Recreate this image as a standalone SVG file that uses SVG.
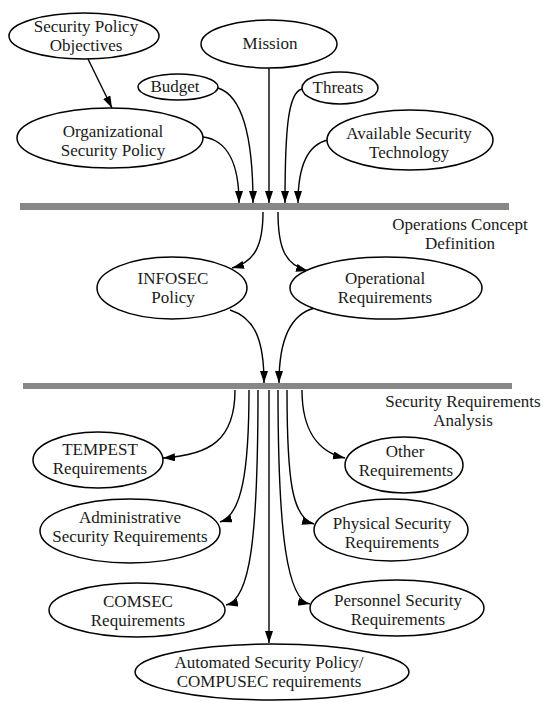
<svg xmlns="http://www.w3.org/2000/svg" width="545" height="702" viewBox="0 0 545 702">
  <style>
    .node ellipse { fill: #ffffff; stroke: #000000; stroke-width: 1.5; }
    text { font-family: "Liberation Serif", "Times New Roman", serif; font-size: 17px; fill: #1a1a1a; text-anchor: middle; }
    .edge { fill: none; stroke: #000000; stroke-width: 1.4; marker-end: url(#arrow); }
    .bar { fill: #878787; }
  </style>
  <defs>
    <marker id="arrow" markerUnits="userSpaceOnUse" markerWidth="13" markerHeight="9" refX="12" refY="4" orient="auto">
      <path d="M0,0 L12,4 L0,8 z" fill="#000000"/>
    </marker>
  </defs>

  <rect x="0" y="0" width="545" height="702" fill="#ffffff"/>

  <!-- phase bars -->
  <g id="bars">
    <rect class="bar" x="20" y="203" width="489" height="7"/>
    <rect class="bar" x="23" y="383" width="489" height="6"/>
    <text x="460" y="229.5">Operations Concept</text>
    <text x="460" y="248.5">Definition</text>
    <text x="463" y="406.5">Security Requirements</text>
    <text x="463" y="425.5">Analysis</text>
  </g>

  <!-- connectors -->
  <g id="connectors">
    <path class="edge" d="M88,59 L112,108"/>
    <path class="edge" d="M203,137 C228,140 239,165 239,203"/>
    <path class="edge" d="M218,88 C240,95 253,130 253,203"/>
    <path class="edge" d="M269,68 L269,203"/>
    <path class="edge" d="M302,89 C288,92 285,130 285,203"/>
    <path class="edge" d="M328,140 C305,145 298,170 298,203"/>

    <path class="edge" d="M263,212 C263,245 255,262 232,268"/>
    <path class="edge" d="M278,212 C278,248 285,265 308,271"/>
    <path class="edge" d="M230,310 C255,318 264,340 264,383"/>
    <path class="edge" d="M315,308 C290,314 279,340 279,383"/>

    <path class="edge" d="M235,390 C235,440 210,455 163,458"/>
    <path class="edge" d="M249,390 C249,470 242,515 220,522"/>
    <path class="edge" d="M258,390 C258,540 250,600 226,605"/>
    <path class="edge" d="M269,390 L269,643"/>
    <path class="edge" d="M278,390 C278,540 288,600 310,604"/>
    <path class="edge" d="M287,390 C287,480 292,518 314,524"/>
    <path class="edge" d="M302,390 C302,430 318,452 345,458"/>
  </g>

  <!-- inputs -->
  <g id="security-policy-objectives" class="node">
    <ellipse cx="84" cy="36" rx="75" ry="23"/>
    <text x="86" y="31.5">Security Policy</text>
    <text x="86" y="50.5">Objectives</text>
  </g>
  <g id="mission" class="node">
    <ellipse cx="269" cy="44" rx="68" ry="24"/>
    <text x="270" y="49">Mission</text>
  </g>
  <g id="budget" class="node">
    <ellipse cx="178" cy="87" rx="40" ry="13"/>
    <text x="175" y="92">Budget</text>
  </g>
  <g id="threats" class="node">
    <ellipse cx="340" cy="88" rx="38" ry="16"/>
    <text x="338" y="93">Threats</text>
  </g>
  <g id="organizational-security-policy" class="node">
    <ellipse cx="110" cy="138" rx="93" ry="30"/>
    <text x="113" y="136.5">Organizational</text>
    <text x="113" y="155.5">Security Policy</text>
  </g>
  <g id="available-security-technology" class="node">
    <ellipse cx="410" cy="140" rx="83" ry="30"/>
    <text x="409" y="139">Available Security</text>
    <text x="409" y="158">Technology</text>
  </g>

  <!-- operations concept outputs -->
  <g id="infosec-policy" class="node">
    <ellipse cx="172" cy="288" rx="75" ry="31"/>
    <text x="173" y="284">INFOSEC</text>
    <text x="173" y="303">Policy</text>
  </g>
  <g id="operational-requirements" class="node">
    <ellipse cx="386" cy="288" rx="96" ry="31"/>
    <text x="385" y="284">Operational</text>
    <text x="385" y="303">Requirements</text>
  </g>

  <!-- requirements -->
  <g id="tempest-requirements" class="node">
    <ellipse cx="98" cy="460" rx="65" ry="28"/>
    <text x="100" y="454.5">TEMPEST</text>
    <text x="100" y="473.5">Requirements</text>
  </g>
  <g id="other-requirements" class="node">
    <ellipse cx="404" cy="465" rx="59" ry="28"/>
    <text x="405" y="456.5">Other</text>
    <text x="406" y="475.5">Requirements</text>
  </g>
  <g id="administrative-security-requirements" class="node">
    <ellipse cx="130" cy="531" rx="90" ry="32"/>
    <text x="130" y="522.5">Administrative</text>
    <text x="130" y="541.5">Security Requirements</text>
  </g>
  <g id="physical-security-requirements" class="node">
    <ellipse cx="391" cy="530" rx="77" ry="31"/>
    <text x="392" y="528.5">Physical Security</text>
    <text x="392" y="547.5">Requirements</text>
  </g>
  <g id="comsec-requirements" class="node">
    <ellipse cx="137" cy="610" rx="88" ry="27"/>
    <text x="138" y="607">COMSEC</text>
    <text x="138" y="626">Requirements</text>
  </g>
  <g id="personnel-security-requirements" class="node">
    <ellipse cx="397" cy="608" rx="87" ry="28"/>
    <text x="398" y="606">Personnel Security</text>
    <text x="398" y="625">Requirements</text>
  </g>
  <g id="automated-security-policy" class="node">
    <ellipse cx="272" cy="672" rx="137" ry="28"/>
    <text x="269" y="668">Automated Security Policy/</text>
    <text x="269" y="687">COMPUSEC requirements</text>
  </g>
</svg>
